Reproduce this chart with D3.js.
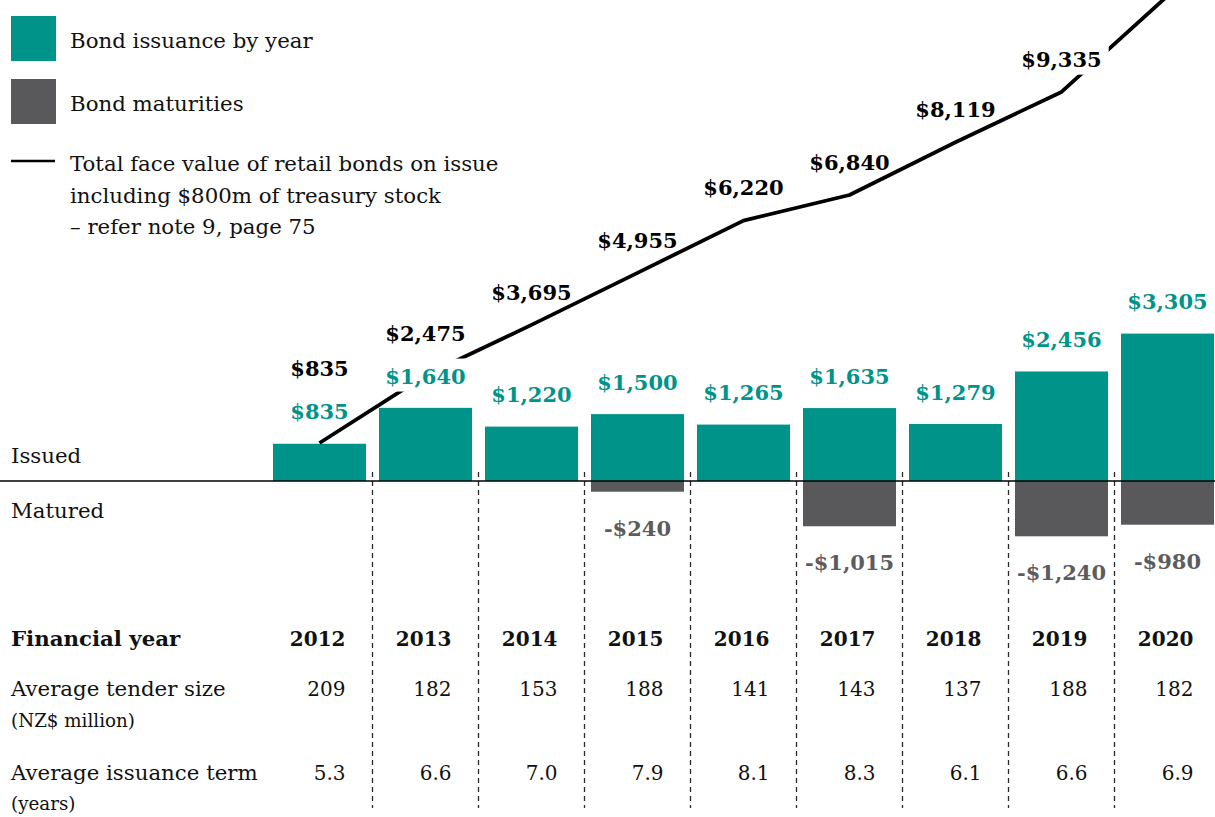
<!DOCTYPE html>
<html>
<head>
<meta charset="utf-8">
<script src="https://cdn.jsdelivr.net/npm/d3@7"></script>
<style>
  html, body { margin: 0; padding: 0; background: #fff; }
  svg { display: block; font-family: "DejaVu Serif", serif; }
</style>
</head>
<body>
<svg id="chart" width="1215" height="817"></svg>
<script>
// Financial years
const years = ["2012", "2013", "2014", "2015", "2016", "2017", "2018", "2019", "2020"];
// Bond issuance by year (NZ$ million)
const issued = [835, 1640, 1220, 1500, 1265, 1635, 1279, 2456, 3305];
// Bond maturities by year (NZ$ million, 0 = none)
const matured = [0, 0, 0, 240, 0, 1015, 0, 1240, 980];
// Total face value of retail bonds on issue (NZ$ million)
const totalOnIssue = [835, 2475, 3695, 4955, 6220, 6840, 8119, 9335, 11660];
// Table rows
const avgTenderSize = ["209", "182", "153", "188", "141", "143", "137", "188", "182"];
const avgIssuanceTerm = ["5.3", "6.6", "7.0", "7.9", "8.1", "8.3", "6.1", "6.6", "6.9"];
// Legend entries
const legendItems = ["Bond issuance by year", "Bond maturities"];
const legendLineText = [
  "Total face value of retail bonds on issue",
  "including $800m of treasury stock",
  "\u2013 refer note 9, page 75"
];

const TEAL = "#00938A";
const GREY = "#59595B";
const GREY_TEXT = "#5C5C5E";
const W = 1215;
const baseY = 481;
const BODY = 21.3;   // body text size
const NOTE = 18.3;   // small unit notes

const svg = d3.select("#chart");

const x = d3.scaleBand()
  .domain(years)
  .range([266.5, 1220.5])
  .paddingInner(0.1226)
  .paddingOuter(0.0613);
const gap = x.step() - x.bandwidth();
const cx = d => x(d) + x.bandwidth() / 2;

// bar scale (issuance up, maturities down from the same baseline)
const yBar = d3.scaleLinear().domain([0, 1000]).range([baseY, baseY - 44.6]);
// scale for the cumulative line
const yLine = d3.scaleLinear().domain([0, 10000]).range([477.5, 64.5]);

const fmt = d3.format("$,");

// ---- legend ----
const legend = svg.append("g");
legendItems.forEach((t, i) => {
  const top = 16 + i * 63;
  legend.append("rect")
    .attr("x", 11).attr("y", top).attr("width", 45).attr("height", 45)
    .attr("fill", i === 0 ? TEAL : GREY);
  legend.append("text")
    .attr("x", 70).attr("y", top + 32)
    .attr("font-size", BODY).attr("fill", "#111")
    .text(t);
});
legend.append("line")
  .attr("x1", 11).attr("x2", 55).attr("y1", 161).attr("y2", 161)
  .attr("stroke", "#000").attr("stroke-width", 2.5);
legendLineText.forEach((t, i) => {
  legend.append("text")
    .attr("x", 70).attr("y", 171 + i * 31.5)
    .attr("font-size", BODY).attr("fill", "#111")
    .text(t);
});

// ---- separators between years ----
svg.append("g").selectAll("line")
  .data(years.slice(1))
  .join("line")
  .attr("x1", d => x(d) - gap / 2)
  .attr("x2", d => x(d) - gap / 2)
  .attr("y1", 472).attr("y2", 808)
  .attr("stroke", "#2a2a2a").attr("stroke-width", 1.3)
  .attr("stroke-dasharray", "5,4");

// ---- bars ----
svg.append("g").selectAll("rect")
  .data(years)
  .join("rect")
  .attr("x", d => x(d))
  .attr("width", x.bandwidth())
  .attr("y", (d, i) => yBar(issued[i]))
  .attr("height", (d, i) => baseY - yBar(issued[i]))
  .attr("fill", TEAL);

const maturedYears = years.filter((d, i) => matured[i] > 0);
svg.append("g").selectAll("rect")
  .data(maturedYears)
  .join("rect")
  .attr("x", d => x(d))
  .attr("width", x.bandwidth())
  .attr("y", baseY)
  .attr("height", d => baseY - yBar(matured[years.indexOf(d)]))
  .attr("fill", GREY);

// baseline
svg.append("line")
  .attr("x1", 0).attr("x2", W).attr("y1", baseY).attr("y2", baseY)
  .attr("stroke", "#000").attr("stroke-width", 1.5);

svg.append("text").attr("x", 11).attr("y", 463)
  .attr("font-size", BODY).attr("fill", "#111").text("Issued");
svg.append("text").attr("x", 11).attr("y", 518)
  .attr("font-size", BODY).attr("fill", "#111").text("Matured");

// ---- cumulative line ----
const linePath = svg.append("path")
  .datum(years)
  .attr("fill", "none")
  .attr("stroke", "#000")
  .attr("stroke-width", 3.8)
  .attr("stroke-linejoin", "round")
  .attr("d", d3.line()
    .x(d => cx(d))
    .y((d, i) => yLine(totalOnIssue[i])));

// ---- value labels ----
const labelLayer = svg.append("g")
  .attr("font-weight", "bold")
  .attr("font-size", 21)
  .attr("text-anchor", "middle");

const issuedCenter = years.map((d, i) => yBar(issued[i]) - 32);

const labels = [];
years.forEach((d, i) => {
  labels.push({ x: cx(d), y: issuedCenter[i] + 7.7, text: fmt(issued[i]), fill: TEAL });
  if (matured[i] > 0) {
    const bottom = baseY + (baseY - yBar(matured[i]));
    labels.push({ x: cx(d), y: bottom + 44, text: "-" + fmt(matured[i]), fill: GREY_TEXT });
  }
  // keep the running total clear of the issuance label beneath it
  const c = Math.min(yLine(totalOnIssue[i]) - 33, issuedCenter[i] - 43);
  if (c > 10) labels.push({ x: cx(d), y: c + 7.7, text: fmt(totalOnIssue[i]), fill: "#000" });
});

const pathNode = linePath.node();
const pathLen = pathNode.getTotalLength();
const samples = d3.range(0, pathLen, 0.5).map(t => pathNode.getPointAtLength(t));

labels.forEach(l => {
  const g = labelLayer.append("g");
  const bg = g.append("rect").attr("fill", "#fff");
  const t = g.append("text").attr("x", l.x).attr("y", l.y).attr("fill", l.fill).text(l.text);
  const b = t.node().getBBox();
  // knock the line out where it runs through a label
  const hit = samples.some(p =>
    p.x > b.x && p.x < b.x + b.width && p.y > b.y + 4 && p.y < b.y + b.height - 2);
  if (hit) {
    bg.attr("x", b.x - 6).attr("y", b.y - 5)
      .attr("width", b.width + 13).attr("height", b.height + 8);
  } else {
    bg.remove();
  }
});

// ---- table ----
const table = svg.append("g").attr("fill", "#111");
table.append("text").attr("x", 11).attr("y", 645.5)
  .attr("font-size", BODY).attr("font-weight", "bold").text("Financial year");
table.append("text").attr("x", 11).attr("y", 696)
  .attr("font-size", BODY).text("Average tender size");
table.append("text").attr("x", 11).attr("y", 727)
  .attr("font-size", NOTE).text("(NZ$ million)");
table.append("text").attr("x", 11).attr("y", 779.5)
  .attr("font-size", BODY).text("Average issuance term");
table.append("text").attr("x", 11).attr("y", 810)
  .attr("font-size", NOTE).text("(years)");

const colRight = d => cx(d) + 26;
table.append("g").selectAll("text").data(years).join("text")
  .attr("x", colRight).attr("y", 645.5).attr("text-anchor", "end")
  .attr("font-size", 20).attr("font-weight", "bold").text(d => d);
table.append("g").selectAll("text").data(years).join("text")
  .attr("x", colRight).attr("y", 696).attr("text-anchor", "end")
  .attr("font-size", 20).text((d, i) => avgTenderSize[i]);
table.append("g").selectAll("text").data(years).join("text")
  .attr("x", colRight).attr("y", 779.5).attr("text-anchor", "end")
  .attr("font-size", 20).text((d, i) => avgIssuanceTerm[i]);
</script>
</body>
</html>
